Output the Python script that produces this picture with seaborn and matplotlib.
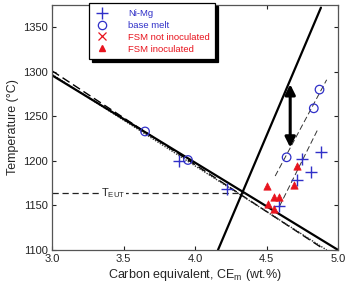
"""
Liquidus lines and measured arrest temperatures vs. carbon equivalent.
"""

import matplotlib
matplotlib.use("Agg")
import matplotlib.pyplot as plt
from matplotlib.lines import Line2D
import pandas as pd
import seaborn as sns

# Data
ni_mg_ce = [3.89, 4.22, 4.59, 4.71, 4.75, 4.81, 4.88]
ni_mg_t = [1200, 1168, 1149, 1179, 1202, 1187, 1210]

base_ce = [3.65, 3.95, 4.64, 4.83, 4.87]
base_t = [1233, 1201, 1204, 1259, 1280]

fsm_inoc_ce = [4.50, 4.51, 4.55, 4.55, 4.59, 4.69, 4.71]
fsm_inoc_t = [1172, 1152, 1146, 1160, 1160, 1173, 1194]

# liquidus lines
aus_ce = [3.0, 5.0]
aus_t = [1296, 1100]
aus_dash_ce = [3.0, 4.9]
aus_dash_t = [1301, 1101]
aus_dot_ce = [3.0, 4.92]
aus_dot_t = [1297, 1100]
gr_ce = [4.16, 4.88]
gr_t = [1100, 1372]
teut_ce = [3.0, 4.35]
teut_t = [1164, 1164]

# trend lines through the data
trend_base_ce = [4.56, 4.92]
trend_base_t = [1183, 1291]
trend_nimg_ce = [4.59, 4.86]
trend_nimg_t = [1149, 1236]

arrow_ce = 4.665
arrow_t = [1215, 1286]

BLUE = "#3030c8"
RED = "#e8141e"

sns.set_theme(style="ticks")
plt.rcParams['font.family'] = ['Liberation Sans', 'DejaVu Sans']
plt.rcParams['mathtext.fontset'] = 'custom'
plt.rcParams['mathtext.rm'] = 'Liberation Sans'
plt.rcParams['mathtext.it'] = 'Liberation Sans'

fig = plt.figure(figsize=(3.45, 2.9), dpi=100)
ax = fig.add_axes([0.151, 0.138, 0.829, 0.845])

def line(xs, ys, **kw):
    df = pd.DataFrame({"ce": xs, "t": ys})
    sns.lineplot(data=df, x="ce", y="t", ax=ax, sort=False, estimator=None, **kw)

line(aus_dash_ce, aus_dash_t, color="black", lw=1.0, linestyle=(0, (6, 3)))
line(aus_dot_ce, aus_dot_t, color="#333333", lw=1.0, linestyle=(0, (1, 1)))
line(aus_ce, aus_t, color="black", lw=1.6)
line(gr_ce, gr_t, color="black", lw=1.6)
line(teut_ce, teut_t, color="#222222", lw=0.9, linestyle=(0, (5, 3)))
line(trend_base_ce, trend_base_t, color="#333333", lw=0.7, linestyle=(0, (6, 3)))
line(trend_nimg_ce, trend_nimg_t, color="#333333", lw=0.7, linestyle=(0, (6, 3)))

sns.scatterplot(x=ni_mg_ce, y=ni_mg_t, marker="+", s=75, color=BLUE, linewidth=1.0, ax=ax, zorder=5)
sns.scatterplot(x=base_ce, y=base_t, marker="o", s=38, facecolor="none", edgecolor=BLUE, linewidth=0.9, ax=ax, zorder=5)
sns.scatterplot(x=fsm_inoc_ce, y=fsm_inoc_t, marker="^", s=28, color=RED, edgecolor=RED, linewidth=0.5, ax=ax, zorder=5)

ax.annotate("", xy=(arrow_ce, arrow_t[0]), xytext=(arrow_ce, arrow_t[1]),
            arrowprops=dict(arrowstyle="<|-|>", lw=2.2, color="black", mutation_scale=15,
                            shrinkA=0, shrinkB=0))

ax.text(3.345, teut_t[0], r"T$_{\rm EUT}$", fontsize=8, ha="left", va="center",
        bbox=dict(facecolor="white", edgecolor="none", pad=0.5), zorder=4)

ax.set_xlim(3.0, 5.0)
ax.set_ylim(1100, 1375)
ax.set_xticks([3.0, 3.5, 4.0, 4.5, 5.0])
ax.set_xticklabels(["3.0", "3.5", "4.0", "4.5", "5.0"])
ax.set_yticks([1100, 1150, 1200, 1250, 1300, 1350])
ax.tick_params(direction="in", top=True, right=True, length=3, width=0.8,
               labelsize=8, colors="#222222", pad=3)
for sp in ax.spines.values():
    sp.set_visible(True)
    sp.set_color("#555555")
    sp.set_linewidth(0.9)

ax.set_xlabel(r"Carbon equivalent, CE$_{\rm m}$ (wt.%)", fontsize=9, labelpad=2)
ax.set_ylabel("Temperature (°C)", fontsize=9, labelpad=3)

handles = [
    Line2D([], [], marker="+", color=BLUE, linestyle="none", markersize=8, markeredgewidth=1.0),
    Line2D([], [], marker="o", color=BLUE, markerfacecolor="none", linestyle="none", markersize=6, markeredgewidth=0.9),
    Line2D([], [], marker="x", color=RED, linestyle="none", markersize=6, markeredgewidth=0.9),
    Line2D([], [], marker="^", color=RED, linestyle="none", markersize=4),
]
labels = ["Ni-Mg", "base melt", "FSM not inoculated", "FSM inoculated"]
leg = ax.legend(handles, labels, loc="upper left", bbox_to_anchor=(0.13, 1.006),
                fontsize=6.8, frameon=True, fancybox=False, borderpad=0.6,
                borderaxespad=0.0, labelspacing=0.3, handletextpad=2.0,
                handlelength=1.5,
                shadow={"color": "black", "alpha": 1.0, "ox": 2, "oy": -2})
leg.get_frame().set_edgecolor("black")
leg.get_frame().set_linewidth(0.9)
for txt, c in zip(leg.get_texts(), [BLUE, BLUE, RED, RED]):
    txt.set_color(c)

fig.savefig("out.png", dpi=100)
